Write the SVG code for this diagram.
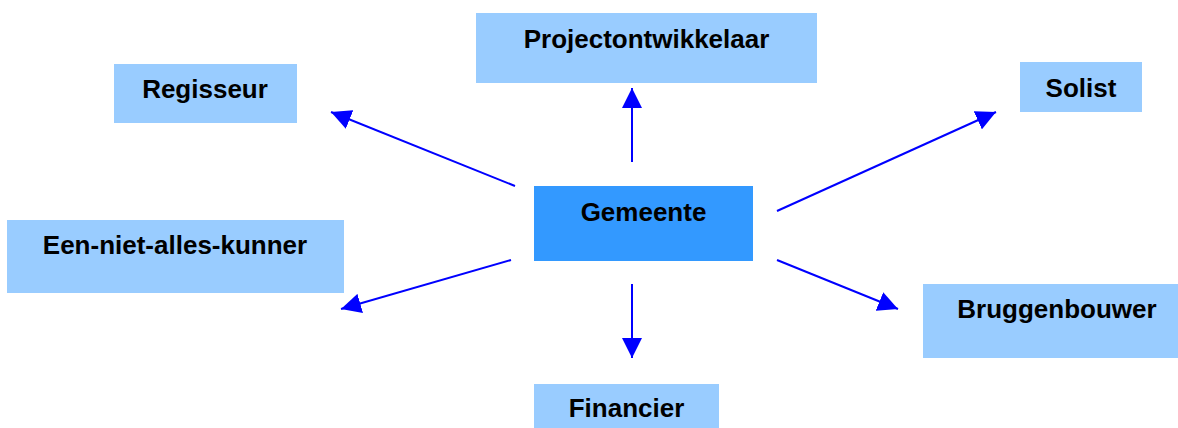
<svg xmlns="http://www.w3.org/2000/svg" width="1178" height="428" viewBox="0 0 1178 428">
<style>
.box{fill:#99CCFF;}
.main{fill:#3399FF;}
text{font-family:"Liberation Sans",Arial,sans-serif;font-weight:bold;font-size:26px;fill:#000;text-anchor:middle;}
.conn line{stroke:#0000FF;stroke-width:2;fill:none;marker-end:url(#arr);}
</style>
<defs>
<marker id="arr" markerUnits="userSpaceOnUse" markerWidth="20" markerHeight="20" refX="20" refY="10" orient="auto" viewBox="0 0 20 20">
<path d="M0,0 L20,10 L0,20 z" fill="#0000FF"/>
</marker>
</defs>
<rect width="1178" height="428" fill="#fff"/>
<g id="projectontwikkelaar"><rect class="box" x="476" y="13" width="341" height="70"/><text x="646.5" y="48">Projectontwikkelaar</text></g>
<g id="regisseur"><rect class="box" x="114" y="64" width="183" height="59"/><text x="205" y="98">Regisseur</text></g>
<g id="solist"><rect class="box" x="1020" y="62" width="122" height="50"/><text x="1081" y="97">Solist</text></g>
<g id="gemeente"><rect class="main" x="534" y="186" width="219" height="75"/><text x="643.5" y="221">Gemeente</text></g>
<g id="een-niet-alles-kunner"><rect class="box" x="7" y="220" width="337" height="73"/><text x="175" y="254">Een-niet-alles-kunner</text></g>
<g id="bruggenbouwer"><rect class="box" x="923" y="284" width="260" height="74"/><text x="1057" y="318">Bruggenbouwer</text></g>
<g id="financier"><rect class="box" x="534" y="384" width="185" height="50"/><text x="626.5" y="417">Financier</text></g>
<g class="conn" id="connectors">
<line x1="632" y1="162" x2="632" y2="88"/>
<line x1="632" y1="284" x2="632" y2="358"/>
<line x1="515" y1="186" x2="331" y2="112"/>
<line x1="511" y1="260" x2="341" y2="309"/>
<line x1="777" y1="211" x2="996" y2="112"/>
<line x1="777" y1="260" x2="898" y2="309"/>
</g>
</svg>
